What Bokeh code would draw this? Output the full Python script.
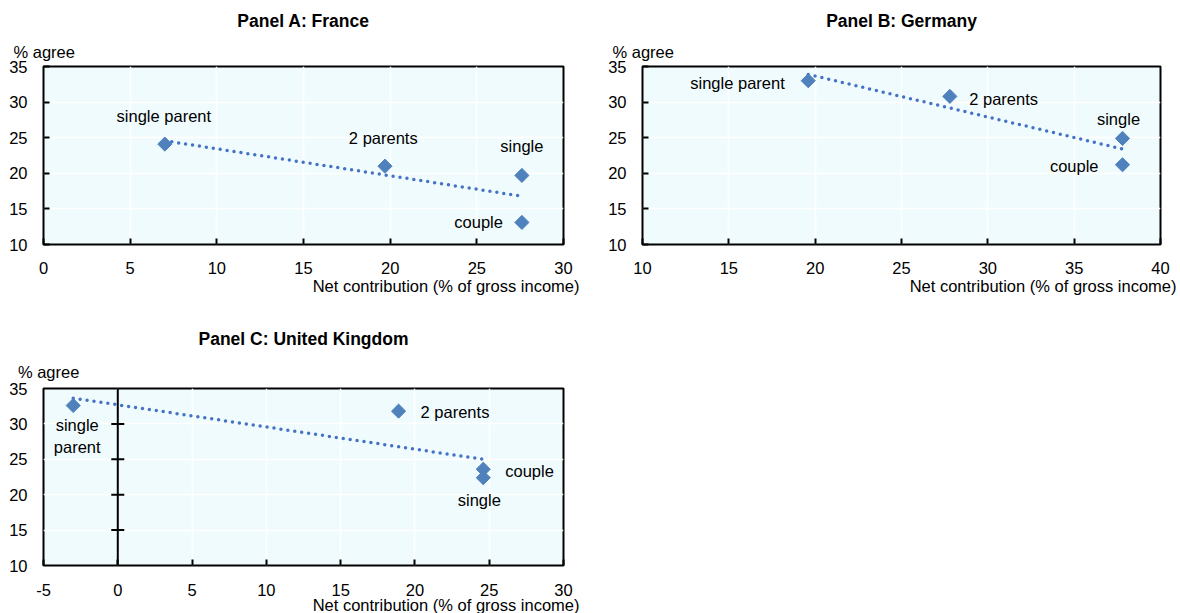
import numpy as np
from bokeh.plotting import figure
from bokeh.models import Span, Range1d, FixedTicker, Title, Label
from bokeh.layouts import column, row
from bokeh.embed import file_html
from bokeh.resources import INLINE

# ---------------- data ----------------
categories = ["single parent", "2 parents", "single", "couple"]

fr_x = [7.0, 19.7, 27.6, 27.6]
fr_y = [24.1, 21.0, 19.7, 13.1]

de_x = [19.6, 27.8, 37.8, 37.8]
de_y = [33.0, 30.8, 24.9, 21.2]

uk_x = [-3.0, 18.9, 24.6, 24.6]
uk_y = [32.6, 31.8, 22.4, 23.6]

titles = ["Panel A: France", "Panel B: Germany", "Panel C: United Kingdom"]
fr_xticks = [0, 5, 10, 15, 20, 25, 30]
de_xticks = [10, 15, 20, 25, 30, 35, 40]
uk_xticks = [-5, 0, 5, 10, 15, 20, 25, 30]
y_ticks = [10, 15, 20, 25, 30, 35]
y_title = "% agree"
x_title = "Net contribution (% of gross income)"

# ---------------- styles ----------------
FONT = "'Liberation Sans', Arial, sans-serif"
FS = "16.5px"
BG = "#F0FBFE"
MARK = "#4F81BD"
TREND = "#4472C4"

# label placement per point: (dx px, dy px (up), align)
fr_lab = [(-1, 28, "center"), (-1.7, 28.4, "center"), (0, 29.3, "center"), (-19, 0.2, "right")]
de_lab = [(-23.5, -2, "right"), (19.4, -2.1, "left"), (-4, 19.9, "center"), (-24, -1.4, "right")]
uk_lab = [(4, -20, "center"), (22, -0.6, "left"), (-4, -22.5, "center"), (22, -1.3, "left")]
uk_split = {0: ["single", "parent"]}


def make_panel(title, xs, ys, xticks, labs, width, height, left, right, top, bottom,
               title_dx, ya_dx, xt_dx, x_standoff, xt_standoff, ya_standoff, t_standoff,
               zero_axis=False, split=None):
    xmin, xmax = xticks[0], xticks[-1]
    p = figure(width=width, height=height, output_backend="svg", toolbar_location=None,
               x_range=Range1d(xmin, xmax), y_range=Range1d(y_ticks[0], y_ticks[-1]),
               min_border_left=left, min_border_right=right,
               min_border_top=top, min_border_bottom=bottom)
    p.background_fill_color = BG
    p.border_fill_color = "white"
    p.outline_line_color = "black"
    p.outline_line_width = 2

    p.xaxis.ticker = FixedTicker(ticks=xticks)
    p.yaxis.ticker = FixedTicker(ticks=y_ticks)
    p.xaxis.major_label_overrides = {t: str(t) for t in xticks}
    p.xgrid.ticker = FixedTicker(ticks=xticks)
    p.ygrid.ticker = FixedTicker(ticks=y_ticks)
    for g in (p.xgrid, p.ygrid):
        g.grid_line_color = "white"
        g.grid_line_width = 1.5

    for ax in (p.xaxis, p.yaxis):
        ax.axis_line_color = None
        ax.major_tick_out = 0
        ax.major_tick_in = 6
        ax.major_tick_line_width = 2
        ax.major_tick_line_color = "black"
        ax.minor_tick_line_color = None
        ax.major_label_text_font = FONT
        ax.major_label_text_font_size = FS
        ax.major_label_text_color = "black"
    p.xaxis.major_label_standoff = x_standoff
    p.yaxis.major_label_standoff = 16
    if zero_axis:
        p.yaxis.major_tick_in = 0
        p.add_layout(Span(location=0, dimension="height", line_color="black", line_width=2))
        inner = y_ticks[1:-1]
        p.scatter(x=[0] * len(inner), y=inner, marker="dash", size=13,
                  line_color="black", line_width=2)

    # trend line (OLS fit of the four points)
    k, b = np.polyfit(xs, ys, 1)
    x0, x1 = min(xs), max(xs)
    p.line(x=[x0, x1], y=[k * x0 + b, k * x1 + b], line_color=TREND, line_width=3.5,
           line_dash="0 7", line_cap="round")

    p.scatter(x=xs, y=ys, marker="square", angle=np.pi / 4, size=10,
              fill_color=MARK, line_color=MARK)

    for i, (name, x, y) in enumerate(zip(categories, xs, ys)):
        dx, dy, al = labs[i]
        lines = split[i] if (split and i in split) else [name]
        for j, t in enumerate(lines):
            p.add_layout(Label(x=x, y=y, x_offset=dx, y_offset=dy - j * 21.7, text=t,
                               text_align=al, text_baseline="alphabetic",
                               text_font=FONT, text_font_size=FS, text_color="black"))

    # texts around the frame
    p.add_layout(Title(text=y_title, align="left", offset=ya_dx, standoff=ya_standoff,
                       text_font=FONT, text_font_size=FS, text_font_style="normal",
                       text_color="black"), "above")
    p.add_layout(Title(text=title, align="center", offset=title_dx, standoff=t_standoff,
                       text_font=FONT, text_font_size="17.5px", text_font_style="bold",
                       text_color="black"), "above")
    p.add_layout(Title(text=x_title, align="right", offset=xt_dx, standoff=xt_standoff,
                       text_font=FONT, text_font_size=FS, text_font_style="normal",
                       text_color="black"), "below")
    return p


pa = make_panel(titles[0], fr_x, fr_y, fr_xticks, fr_lab, 605, 320, 43, 42, 66, 76,
                -3, -30, -16, 17, -3, 12, 8)
pb = make_panel(titles[1], de_x, de_y, de_xticks, de_lab, 575, 320, 35, 20, 66, 76,
                -3.6, -30, -16, 17, -3, 12, 8)
pc = make_panel(titles[2], uk_x, uk_y, uk_xticks, uk_lab, 605, 293, 43, 42, 68, 48,
                -3.8, -25.6, -16, 18, -10, 15, 10, zero_axis=True, split=uk_split)

layout = column(row(pa, pb), row(pc))
open("out.html", "w").write(file_html(layout, INLINE))
